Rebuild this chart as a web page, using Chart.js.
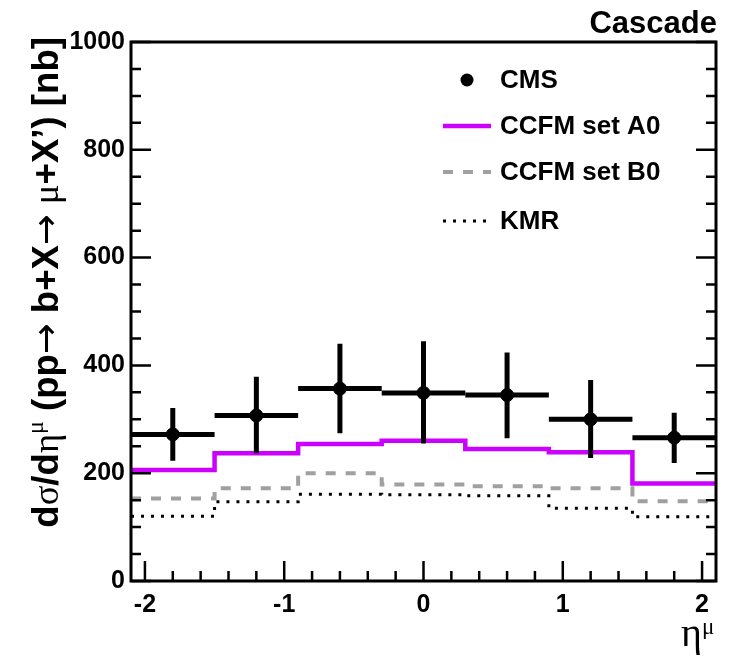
<!DOCTYPE html>
<html><head><meta charset="utf-8">
<script src="https://cdn.jsdelivr.net/npm/chart.js@4/dist/chart.umd.min.js"></script>
<style>html,body{margin:0;padding:0;background:#fff}canvas{display:block}</style>
</head><body>
<canvas id="c" width="730" height="658"></canvas>
<script>
// ---- data ----
const binEdges   = [-2.1, -1.5, -0.9, -0.3, 0.3, 0.9, 1.5, 2.1];
const binCenters = [-1.8, -1.2, -0.6, 0.0, 0.6, 1.2, 1.8];
const cmsValues  = [272, 307, 357, 349, 345, 300, 266];
const cmsErrUp   = [49, 72, 83, 96, 79, 73, 46];
const cmsErrDown = [49, 70, 83, 94, 80, 72, 47];
const ccfmA0     = [206, 237, 254, 260, 245, 239, 181];
const ccfmB0     = [153, 172, 200, 179, 176, 172, 148];
const kmr        = [120, 147, 161, 160, 158, 135, 119];
const xTickVals  = [-2, -1, 0, 1, 2];
const yTickVals  = [0, 200, 400, 600, 800, 1000];
const seriesNames = ['CMS', 'CCFM set A0', 'CCFM set B0', 'KMR'];

const SANS = '"Liberation Sans", Arial, Helvetica, sans-serif';
const SERIF = '"Liberation Serif", "DejaVu Serif", serif';
const ARROWF = '"DejaVu Sans", sans-serif';

function stepData(vals) {
  return binEdges.map((x, i) => ({x: x, y: vals[Math.min(i, vals.length - 1)]}));
}

const frameAndText = {
  id: 'frameAndText',
  afterDatasetsDraw(chart) {
    const ctx = chart.ctx, xs = chart.scales.x, ys = chart.scales.y;
    ctx.save();
    ctx.strokeStyle = '#000';
    ctx.lineWidth = 5;
    ctx.lineCap = 'butt';
    const ca = chart.chartArea;
    ctx.beginPath(); ctx.rect(ca.left, ca.top, ca.right - ca.left, ca.bottom - ca.top); ctx.clip();
    binCenters.forEach((c, i) => {
      const px = xs.getPixelForValue(c), py = ys.getPixelForValue(cmsValues[i]);
      ctx.beginPath();
      ctx.moveTo(xs.getPixelForValue(binEdges[i]), py);
      ctx.lineTo(xs.getPixelForValue(binEdges[i + 1]), py);
      ctx.moveTo(px, ys.getPixelForValue(cmsValues[i] + cmsErrUp[i]));
      ctx.lineTo(px, ys.getPixelForValue(cmsValues[i] - cmsErrDown[i]));
      ctx.stroke();
    });
    ctx.restore();
  },
  afterDraw(chart) {
    const ctx = chart.ctx, xs = chart.scales.x, ys = chart.scales.y;
    const ca = chart.chartArea;
    ctx.save();
    ctx.strokeStyle = '#000';
    ctx.lineWidth = 2.5;
    ctx.beginPath();
    for (let v = 0; v <= 1000; v += 50) {
      const py = ys.getPixelForValue(v);
      const len = (v % 200 === 0) ? 20 : 10;
      ctx.moveTo(ca.left, py); ctx.lineTo(ca.left + len, py);
      ctx.moveTo(ca.right, py); ctx.lineTo(ca.right - len, py);
    }
    for (let k = -10; k <= 10; k++) {
      const v = k / 5;
      const px = xs.getPixelForValue(v);
      const len = (k % 5 === 0) ? 20 : 10;
      ctx.moveTo(px, ca.bottom); ctx.lineTo(px, ca.bottom - len);
    }
    ctx.stroke();
    ctx.lineWidth = 3;
    ctx.strokeRect(ca.left, ca.top, ca.right - ca.left, ca.bottom - ca.top);

    // legend
    const lx0 = 443, lx1 = 491, tx = 500;
    const rows = [80, 126, 172, 221];
    ctx.fillStyle = '#000';
    ctx.beginPath(); ctx.arc((lx0 + lx1) / 2, rows[0], 6.5, 0, Math.PI * 2); ctx.fill();
    const ds = chart.data.datasets;
    [1, 2, 3].forEach(j => {
      const d = ds[j];
      ctx.save();
      ctx.strokeStyle = d.borderColor; ctx.lineWidth = d.borderWidth;
      ctx.setLineDash(d.borderDash || []);
      ctx.beginPath(); ctx.moveTo(lx0, rows[j]); ctx.lineTo(lx1, rows[j]); ctx.stroke();
      ctx.restore();
    });
    ctx.font = 'bold 26px ' + SANS;
    ctx.textBaseline = 'middle';
    ctx.textAlign = 'left';
    seriesNames.forEach((n, j) => ctx.fillText(n, tx, rows[j] + 1));

    // Cascade label
    ctx.font = 'bold 31px ' + SANS;
    ctx.textAlign = 'right';
    ctx.textBaseline = 'alphabetic';
    ctx.fillText('Cascade', 717, 33);

    // x-axis title  eta^mu
    ctx.textAlign = 'left';
    ctx.font = '40px ' + SERIF;
    const etaW = ctx.measureText('η').width;
    const xt0 = 713 - etaW - 11;
    ctx.fillText('η', xt0, 646);
    ctx.font = '23px ' + SERIF;
    ctx.fillText('μ', xt0 + etaW, 634);

    // y-axis title (rotated), fitted to span from bottom end to top end
    const build = s => [
      {t: 'd', f: 'bold ' + s + 'px ' + SANS}, {t: 'σ', f: s + 'px ' + SERIF},
      {t: '/d', f: 'bold ' + s + 'px ' + SANS}, {t: 'η', f: s + 'px ' + SERIF},
      {t: 'μ', f: (s * 0.65) + 'px ' + SERIF, dy: -s * 0.42},
      {t: ' (pp', f: 'bold ' + s + 'px ' + SANS}, {t: '→', f: s + 'px ' + ARROWF},
      {t: ' b+X', f: 'bold ' + s + 'px ' + SANS}, {t: '→', f: s + 'px ' + ARROWF},
      {t: ' ', f: 'bold ' + s + 'px ' + SANS}, {t: 'μ', f: s + 'px ' + SERIF},
      {t: '+X\u2019) [nb]', f: 'bold ' + s + 'px ' + SANS}
    ];
    const measure = parts => parts.reduce((a, p) => { ctx.font = p.f; p.w = ctx.measureText(p.t).width; return a + p.w; }, 0);
    const s0 = 30;
    const s1 = s0 * 491 / measure(build(s0));
    const parts = build(s1);
    const W = measure(parts);
    ctx.translate(58, 37);
    ctx.rotate(-Math.PI / 2);
    let x = -W;
    parts.forEach(p => { ctx.font = p.f; ctx.fillText(p.t, x, p.dy || 0); x += p.w; });
    ctx.restore();
  }
};

new Chart(document.getElementById('c'), {
  type: 'scatter',
  data: {
    datasets: [
      {label: seriesNames[0], data: binCenters.map((x, i) => ({x: x, y: cmsValues[i]})),
       backgroundColor: '#000', borderColor: '#000', pointRadius: 6.5, pointHoverRadius: 6.5, order: 0},
      {label: seriesNames[1], type: 'line', data: stepData(ccfmA0), stepped: 'before',
       borderColor: '#cc00ff', borderWidth: 4.5, pointRadius: 0, fill: false, order: 3},
      {label: seriesNames[2], type: 'line', data: stepData(ccfmB0), stepped: 'before',
       borderColor: '#a0a0a0', borderWidth: 4, borderDash: [10, 10], pointRadius: 0, fill: false, order: 2},
      {label: seriesNames[3], type: 'line', data: stepData(kmr), stepped: 'before',
       borderColor: '#000', borderWidth: 3, borderDash: [3, 7], pointRadius: 0, fill: false, order: 1}
    ]
  },
  options: {
    responsive: false,
    animation: false,
    layout: {padding: {top: 42, right: 14, left: 0, bottom: 0}},
    plugins: {legend: {display: false}, tooltip: {enabled: false}},
    scales: {
      x: {
        type: 'linear', min: -2.1, max: 2.1,
        grid: {display: false, drawTicks: false}, border: {display: false},
        afterBuildTicks: s => { s.ticks = xTickVals.map(v => ({value: v})); },
        afterFit: s => { s.height = 77; },
        ticks: {color: '#000', font: {family: SANS, size: 25, weight: 'bold'}, padding: 9,
                maxRotation: 0, autoSkip: false, callback: v => String(v)}
      },
      y: {
        type: 'linear', min: 0, max: 1000,
        grid: {display: false, drawTicks: false}, border: {display: false},
        afterBuildTicks: s => { s.ticks = yTickVals.map(v => ({value: v})); },
        afterFit: s => { s.width = 131; },
        ticks: {color: '#000', font: {family: SANS, size: 25, weight: 'bold'}, padding: 6,
                callback: v => String(v)}
      }
    }
  },
  plugins: [frameAndText]
});
</script>
</body></html>
